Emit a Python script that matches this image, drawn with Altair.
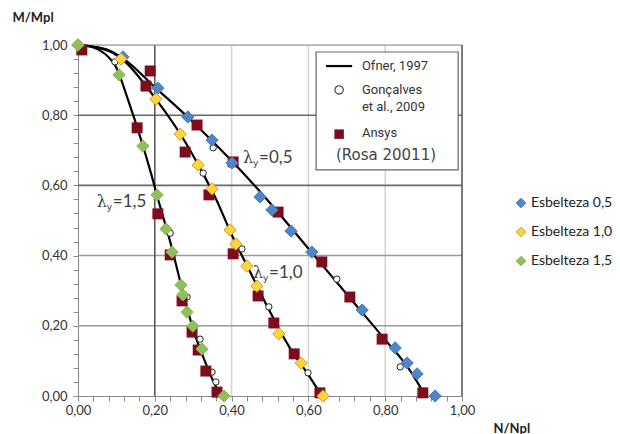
import altair as alt
import pandas as pd

# ---- Data ----
series_names = ["Esbelteza 0,5", "Esbelteza 1,0", "Esbelteza 1,5"]

e05_x = [0.000, 0.117, 0.208, 0.286, 0.349, 0.401, 0.474, 0.505, 0.555, 0.609, 0.740, 0.826, 0.857, 0.883, 0.930]
e05_y = [1.000, 0.966, 0.877, 0.795, 0.729, 0.664, 0.567, 0.530, 0.470, 0.410, 0.245, 0.137, 0.094, 0.063, 0.000]

e10_x = [0.000, 0.112, 0.203, 0.266, 0.313, 0.349, 0.396, 0.411, 0.440, 0.466, 0.523, 0.581, 0.638]
e10_y = [1.000, 0.960, 0.846, 0.746, 0.658, 0.590, 0.473, 0.433, 0.370, 0.313, 0.177, 0.094, 0.000]

e15_x = [0.000, 0.107, 0.169, 0.206, 0.229, 0.245, 0.268, 0.273, 0.284, 0.299, 0.323, 0.380]
e15_y = [1.000, 0.915, 0.712, 0.573, 0.476, 0.410, 0.316, 0.288, 0.239, 0.199, 0.134, 0.000]

# Ofner, 1997 curves
c05_x = [0.00, 0.04, 0.08, 0.12, 0.20, 0.30, 0.40, 0.50, 0.60, 0.70, 0.80, 0.86, 0.905]
c05_y = [1.00, 0.995, 0.985, 0.960, 0.880, 0.780, 0.670, 0.550, 0.420, 0.290, 0.160, 0.080, 0.000]
c10_x = [0.00, 0.05, 0.09, 0.12, 0.20, 0.27, 0.32, 0.36, 0.40, 0.45, 0.50, 0.55, 0.60, 0.635]
c10_y = [1.00, 0.993, 0.978, 0.955, 0.850, 0.740, 0.645, 0.560, 0.460, 0.350, 0.240, 0.140, 0.060, 0.000]
c15_x = [0.00, 0.04, 0.07, 0.10, 0.13, 0.16, 0.19, 0.21, 0.24, 0.27, 0.30, 0.33, 0.36, 0.375]
c15_y = [1.00, 0.993, 0.975, 0.935, 0.845, 0.745, 0.635, 0.555, 0.440, 0.310, 0.190, 0.100, 0.025, 0.000]

# Ansys (Rosa 20011) squares
ansys_x = [0.010, 0.188, 0.310, 0.404, 0.521, 0.635, 0.708, 0.792, 0.898,
           0.177, 0.279, 0.341, 0.404, 0.469, 0.510, 0.563, 0.630,
           0.154, 0.208, 0.240, 0.271, 0.297, 0.313, 0.333, 0.362]
ansys_y = [0.986, 0.926, 0.772, 0.667, 0.524, 0.382, 0.282, 0.162, 0.009,
           0.883, 0.695, 0.573, 0.405, 0.285, 0.208, 0.120, 0.009,
           0.764, 0.519, 0.402, 0.271, 0.182, 0.131, 0.071, 0.011]

# Gonçalves et al., 2009 open circles
gon_x = [0.096, 0.352, 0.326, 0.427, 0.674, 0.497, 0.599, 0.839, 0.240, 0.284, 0.318, 0.349, 0.359]
gon_y = [0.952, 0.707, 0.635, 0.419, 0.333, 0.254, 0.066, 0.083, 0.464, 0.282, 0.162, 0.068, 0.040]

# grid lines
grid_h_dark = [0.6, 0.8]
grid_h_mid = [0.2, 0.4]
grid_v_dark = [0.2]
grid_v_light = [0.4, 0.6, 0.8]
frame_top = [1.0]
frame_right = [1.0]

# labels
lam_texts = ["=0,5", "=1,0", "=1,5"]
lam_x = [0.430, 0.456, 0.049]
lam_y = [0.678, 0.350, 0.553]

# inner legend box (in data units)
box_x0, box_x1, box_y0, box_y1 = 0.620, 0.990, 0.644, 0.980
leg_line_x = [0.646, 0.714]
leg_line_y = 0.940
leg_sym_x = 0.680
leg_text_x = 0.755
leg_texts = ["Ofner, 1997", "Gonçalves", "et al., 2009", "Ansys"]
leg_texts_y = [0.940, 0.872, 0.823, 0.748]
leg_circle_y = 0.872
leg_square_y = 0.746
rosa_text = "(Rosa 20011)"
rosa_x, rosa_y = 0.802, 0.687

# ---- Tables ----
rows = []
for name, xs, ys in zip(series_names, [e05_x, e10_x, e15_x], [e05_y, e10_y, e15_y]):
    for a, b in zip(xs, ys):
        rows.append({"serie": name, "x": a, "y": b})
df_e = pd.DataFrame(rows)

crow = []
for name, xs, ys in zip(["0.5", "1.0", "1.5"], [c05_x, c10_x, c15_x], [c05_y, c10_y, c15_y]):
    for i, (a, b) in enumerate(zip(xs, ys)):
        crow.append({"curve": name, "i": i, "x": a, "y": b})
df_c = pd.DataFrame(crow)

df_a = pd.DataFrame({"x": ansys_x, "y": ansys_y})
df_g = pd.DataFrame({"x": gon_x, "y": gon_y})
df_lam = pd.DataFrame({"t": lam_texts, "x": lam_x, "y": lam_y})

X = alt.Scale(domain=[0, 1], nice=False, zero=False)
Y = alt.Scale(domain=[0, 1], nice=False, zero=False)

ticks = [round(i * 0.04, 2) for i in range(26)]
lab = "abs(datum.value*5 - round(datum.value*5)) < 0.001 ? replace(format(datum.value, '.2f'), '.', ',') : ''"

FONT = "Lato"

xaxis = alt.Axis(values=ticks, labelExpr=lab, grid=False, tickSize=5, tickColor="#888",
                 domainColor="#888", labelFont=FONT, labelFontSize=13, labelColor="#333",
                 labelPadding=3, labelOverlap=False, labelFlush=False,
                 title="N/Npl", titleFont=FONT, titleFontSize=13, titleFontWeight="bold",
                 titleColor="#222", titleX=415, titleY=32, titleAlign="left",
                 titleBaseline="middle", titleAnchor="start")
yaxis = alt.Axis(values=ticks, labelExpr=lab, grid=False, tickSize=5, tickColor="#888",
                 domainColor="#888", labelFont=FONT, labelFontSize=13, labelColor="#333",
                 labelPadding=6, labelOverlap=False, labelFlush=False,
                 title="M/Mpl", titleFont=FONT, titleFontSize=13, titleFontWeight="bold",
                 titleColor="#222", titleAngle=0, titleX=-66, titleY=-28, titleAlign="left",
                 titleBaseline="middle", titleAnchor="start")


def xe(f):
    return alt.X(f, scale=X, axis=xaxis)


def ye(f):
    return alt.Y(f, scale=Y, axis=yaxis)


def hrules(vals, color, w):
    return alt.Chart(pd.DataFrame({"v": vals})).mark_rule(color=color, strokeWidth=w).encode(
        y=ye("v:Q"))


def vrules(vals, color, w):
    return alt.Chart(pd.DataFrame({"v": vals})).mark_rule(color=color, strokeWidth=w).encode(
        x=xe("v:Q"))


grid = (vrules(grid_v_light, "#d4d4d4", 1.5) + hrules(grid_h_mid, "#9a9a9a", 1.5)
        + hrules(grid_h_dark, "#6a6a6a", 1.6) + vrules(grid_v_dark, "#5a5a5a", 1.6)
        + hrules(frame_top, "#8a8a8a", 1.2) + vrules(frame_right, "#555", 1.5))

box = alt.Chart(pd.DataFrame({"x0": [box_x0], "x1": [box_x1], "y0": [box_y0], "y1": [box_y1]})).mark_rect(
    fill="white", stroke="#666", strokeWidth=1.2).encode(
    x=xe("x0:Q"), x2="x1:Q", y=ye("y0:Q"), y2="y1:Q")

leg_line = alt.Chart(pd.DataFrame({"x0": [leg_line_x[0]], "x1": [leg_line_x[1]], "y": [leg_line_y]})).mark_rule(
    color="black", strokeWidth=2.2).encode(x=xe("x0:Q"), x2="x1:Q", y=ye("y:Q"))
leg_circle = alt.Chart(pd.DataFrame({"x": [leg_sym_x], "y": [leg_circle_y]})).mark_point(
    shape="circle", size=70, filled=True, fill="white", stroke="#333", strokeWidth=1.1, opacity=1).encode(
    x=xe("x:Q"), y=ye("y:Q"))
leg_square = alt.Chart(pd.DataFrame({"x": [leg_sym_x], "y": [leg_square_y]})).mark_point(
    shape="square", size=90, filled=True, color="#7d0c1c", opacity=1).encode(
    x=xe("x:Q"), y=ye("y:Q"))
leg_text = alt.Chart(pd.DataFrame({"t": leg_texts, "y": leg_texts_y, "x": [leg_text_x] * 4})).mark_text(
    align="left", baseline="middle", font="Liberation Sans Narrow, Roboto, sans-serif", fontSize=13,
    color="#333", dx=-6).encode(x=xe("x:Q"), y=ye("y:Q"), text="t:N")
rosa = alt.Chart(pd.DataFrame({"t": [rosa_text], "x": [rosa_x], "y": [rosa_y]})).mark_text(
    align="center", baseline="middle", font="DejaVu Sans", fontSize=15, color="#444").encode(
    x=xe("x:Q"), y=ye("y:Q"), text="t:N")

curves = alt.Chart(df_c).mark_line(color="black", strokeWidth=2.2, interpolate="monotone").encode(
    x=xe("x:Q"), y=ye("y:Q"), detail="curve:N", order="i:Q")

gon = alt.Chart(df_g).mark_point(shape="circle", size=40, filled=True, fill="white",
                                 stroke="#222", strokeWidth=1, opacity=1).encode(
    x=xe("x:Q"), y=ye("y:Q"))

ansys = alt.Chart(df_a).mark_point(shape="square", size=120, filled=True, color="#7d0c1c", opacity=1).encode(
    x=xe("x:Q"), y=ye("y:Q"))

fills = ["#4f86c9", "#ffd53d", "#8fc05a"]
strokes = ["#4778b6", "#d49a1e", "#86b451"]
esb = alt.Chart(df_e).mark_point(shape="diamond", size=150, filled=True, opacity=1, strokeWidth=1).encode(
    x=xe("x:Q"), y=ye("y:Q"),
    fill=alt.Fill("serie:N", scale=alt.Scale(domain=series_names, range=fills),
                  legend=alt.Legend(title=None, orient="none", legendX=436, legendY=151,
                                    symbolType="diamond", symbolSize=90, symbolStrokeWidth=1,
                                    labelFont=FONT, labelFontSize=14, labelColor="#222",
                                    labelOffset=3, rowPadding=15, padding=0)),
    stroke=alt.Stroke("serie:N", scale=alt.Scale(domain=series_names, range=strokes), legend=None),
)

lam1 = alt.Chart(df_lam).mark_text(align="left", baseline="middle", font="DejaVu Serif",
                                   fontSize=16, color="#404040").encode(
    x=xe("x:Q"), y=ye("y:Q"), text=alt.value("λ"))
lam2 = alt.Chart(df_lam).mark_text(align="left", baseline="middle", font="DejaVu Sans",
                                   fontSize=9, color="#404040", dx=10, dy=5).encode(
    x=xe("x:Q"), y=ye("y:Q"), text=alt.value("y"))
lam3 = alt.Chart(df_lam).mark_text(align="left", baseline="middle", font=FONT,
                                   fontSize=17, color="#404040", dx=16).encode(
    x=xe("x:Q"), y=ye("y:Q"), text="t:N")

chart = alt.layer(
    grid, box, leg_line, leg_circle, leg_square, leg_text, rosa,
    curves, gon, ansys, esb, lam1, lam2, lam3
).properties(
    width=384, height=351,
    autosize=alt.AutoSizeParams(type="none"),
    padding={"left": 78, "top": 45, "right": 158, "bottom": 38},
).configure_view(stroke=None).configure(background="white")

chart.save("out.html", embed_options={"renderer": "svg", "actions": False})
